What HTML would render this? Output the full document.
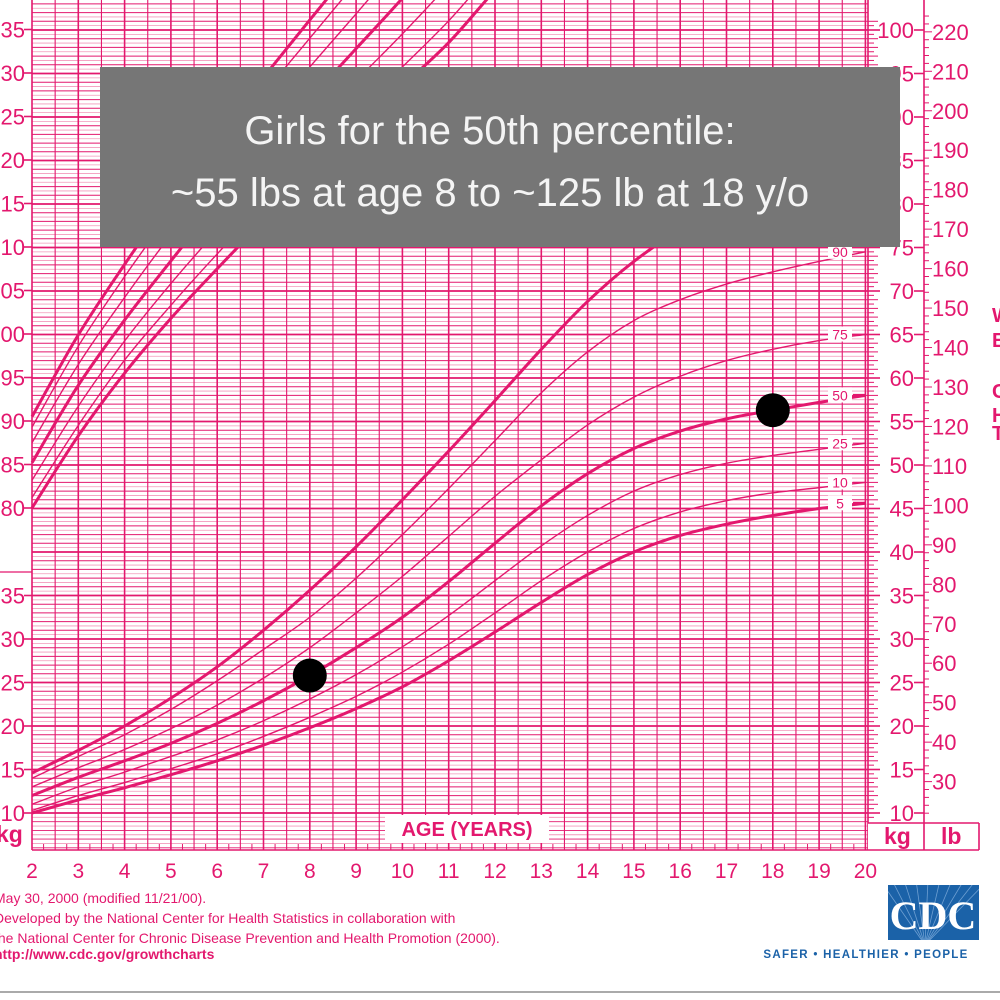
<!DOCTYPE html>
<html><head><meta charset="utf-8"><style>
body{margin:0;background:#fff;}
#wrap{position:relative;width:1000px;height:1000px;overflow:hidden;font-family:"Liberation Sans",sans-serif;}
svg{position:absolute;left:0;top:0;}
</style></head><body>
<div id="wrap">
<svg id="chart" width="1000" height="1000"></svg>
</div>
<script>
const ages = [2,3,4,5,6,7,8,9,10,11,12,13,14,15,16,17,18,19,20];
const weightPercentiles = ["5","10","25","50","75","90","95"];
const w5  = [10.0,11.5,12.9,14.4,16.0,17.8,19.8,22.0,24.5,27.5,30.8,34.2,37.4,40.0,41.9,43.2,44.2,45.0,45.6];
const w10 = [10.3,12.0,13.5,15.1,16.8,18.8,21.0,23.4,26.2,29.4,33.0,36.7,40.0,42.7,44.6,45.9,46.8,47.4,48.0];
const w25 = [11.0,13.0,14.7,16.5,18.4,20.6,23.1,25.9,29.1,32.7,36.7,40.7,44.2,47.0,48.9,50.2,51.1,51.8,52.5];
const w50 = [12.0,14.1,16.0,18.0,20.3,22.9,25.8,29.0,32.5,36.6,41.0,45.3,49.0,51.9,53.9,55.3,56.3,57.2,58.0];
const w75 = [13.0,15.2,17.3,19.7,22.4,25.5,29.0,33.0,37.2,41.8,46.4,50.6,54.6,57.8,60.2,62.0,63.3,64.3,65.0];
const w90 = [14.0,16.5,19.0,21.9,25.2,28.8,32.5,37.0,42.0,47.3,52.8,58.3,63.0,66.6,69.0,70.8,72.2,73.4,74.5];
const w95 = [14.6,17.2,20.0,23.2,26.8,31.0,35.6,40.6,46.0,51.6,57.4,63.3,68.8,73.4,77.0,79.6,81.8,83.8,85.5];
const statureAges = [2,3,4,5,6,7,8,9,10,11,12,13];
const s5  = [80.0,88.3,95.5,101.8,107.5,113.0,118.3,123.5,128.5,133.5,139.5,145.0];
const s10 = [81.2,89.5,97.0,103.3,109.2,114.8,120.2,125.5,130.7,136.0,142.0,147.5];
const s25 = [83.2,91.7,99.2,105.8,111.9,117.8,123.5,129.1,134.5,140.2,146.3,151.5];
const s50 = [85.2,94.1,101.6,108.4,115.0,121.0,127.0,132.8,138.6,144.8,151.0,156.5];
const s75 = [87.5,96.5,104.2,111.4,118.0,124.5,130.7,136.8,143.0,149.2,155.5,160.5];
const s90 = [89.3,98.6,106.6,114.0,121.0,127.6,134.0,140.4,146.8,153.2,159.4,164.0];
const s95 = [90.5,99.9,108.0,115.6,122.8,129.5,136.1,142.6,149.2,155.6,161.6,166.0];
const markerAges = [8,18];
const markerKg = [25.8,56.3];
const kgLeftTicks = [10,15,20,25,30,35];
const cmLeftTicks = [80,85,90,95,100,105,110,115,120,125,130,135];
const kgRightTicks = [10,15,20,25,30,35,40,45,50,55,60,65,70,75,80,85,90,95,100];
const lbTicks = [30,40,50,60,70,80,90,100,110,120,130,140,150,160,170,180,190,200,210,220];

const PINK="#e3186e", LIGHT="#f29abb";
const NS="http://www.w3.org/2000/svg";
const svg=document.getElementById('chart');
const X0=32, PXY=46.3, UNIT=8.7, GRID_R=868, GRID_B=850;
function xAge(a){return X0+(a-2)*PXY;}
function yKg(k){return 813-(k-10)*UNIT;}
function yCm(c){return 508-(c-80)*UNIT;}
function yLb(l){return yKg(l*0.45359);}
function mk(tag,attrs){const e=document.createElementNS(NS,tag);for(const k in attrs)e.setAttribute(k,attrs[k]);svg.appendChild(e);return e;}
function txt(s,x,y,size,anchor,fill,weight){const t=mk('text',{x:x,y:y,'font-size':size,'text-anchor':anchor||'start',fill:fill||PINK,'font-family':'Liberation Sans, sans-serif','font-weight':weight||'normal'});t.textContent=s;return t;}

// horizontal grid
for(let n=0;n*4.35<=813;n++){
  const y=813-n*4.35;
  const half=n%2===1, five=(n%10===0);
  const l=mk('line',{x1:X0,x2:GRID_R,y1:y,y2:y,stroke:half?LIGHT:PINK,'stroke-width':five?1.8:(half?0.8:1)});
  
}
for(let n=1;n<=8;n++){const y=813+n*4.35;if(y>GRID_B)break;mk('line',{x1:X0,x2:GRID_R,y1:y,y2:y,stroke:n%2?LIGHT:PINK,'stroke-width':0.9});}
// vertical grid
for(let a=2;a<=20.01;a+=0.5){
  const l=mk('line',{x1:xAge(a),x2:xAge(a),y1:0,y2:GRID_B,stroke:PINK,'stroke-width':Number.isInteger(a)?1.6:1.1});
  
}
for(let a=2.25;a<20;a+=0.5){mk('line',{x1:xAge(a),x2:xAge(a),y1:GRID_B-6,y2:GRID_B,stroke:PINK,'stroke-width':1});}
mk('line',{x1:X0,x2:GRID_R,y1:GRID_B,y2:GRID_B,stroke:PINK,'stroke-width':1.6});
mk('line',{x1:GRID_R,x2:GRID_R,y1:0,y2:GRID_B,stroke:PINK,'stroke-width':1.6});

// left labels
kgLeftTicks.forEach(k=>{const t=txt(String(k).slice(-2),25,yKg(k)+8,22,'end');mk('line',{x1:24,x2:X0,y1:yKg(k),y2:yKg(k),stroke:PINK,'stroke-width':1.6});});
cmLeftTicks.forEach(c=>{const t=txt(String(c).slice(-2),25,yCm(c)+8,22,'end');mk('line',{x1:24,x2:X0,y1:yCm(c),y2:yCm(c),stroke:PINK,'stroke-width':1.6});});
mk('rect',{x:0,y:538,width:30,height:34,fill:'#fff'});
mk('line',{x1:0,x2:32,y1:572,y2:572,stroke:PINK,'stroke-width':1.2});
{const t=txt('kg',-4,842,23,'start',PINK,'bold');}

// right kg labels + ticks
for(let k=9.5;k<=101;k+=0.5){mk('line',{x1:GRID_R,x2:GRID_R+(Number.isInteger(k)?10:6),y1:yKg(k),y2:yKg(k),stroke:PINK,'stroke-width':1});}
kgRightTicks.forEach(k=>{const t=txt(String(k),914,yKg(k)+8,22,'end');mk('line',{x1:GRID_R,x2:GRID_R+12,y1:yKg(k),y2:yKg(k),stroke:PINK,'stroke-width':1.6});mk('line',{x1:914,x2:924,y1:yKg(k),y2:yKg(k),stroke:PINK,'stroke-width':1.6});});
// lb axis
mk('line',{x1:924,x2:924,y1:0,y2:GRID_B,stroke:PINK,'stroke-width':1.6});
for(let l=22;l<=224;l+=2){mk('line',{x1:924,x2:924+(l%10===0?8:5),y1:yLb(l),y2:yLb(l),stroke:PINK,'stroke-width':1});}
lbTicks.forEach(l=>{const t=txt(String(l),932,yLb(l)+8,22,'start');});
mk('rect',{x:868,y:823,width:111,height:27,fill:'#fff'});
mk('line',{x1:868,x2:979,y1:823,y2:823,stroke:PINK,'stroke-width':1.6});
mk('line',{x1:979,x2:979,y1:823,y2:GRID_B,stroke:PINK,'stroke-width':1.6});
mk('line',{x1:868,x2:979,y1:GRID_B,y2:GRID_B,stroke:PINK,'stroke-width':1.6});
mk('line',{x1:924,x2:924,y1:823,y2:GRID_B,stroke:PINK,'stroke-width':1.6});
{const t=txt('kg',884,844,23,'start',PINK,'bold');}
{const t=txt('lb',941,844,23,'start',PINK,'bold');}
// side title fragments
[['W',322],['E',347],['C',398],['H',422],['T',440]].forEach(p=>{const t=txt(p[0],992,p[1],20,'start',PINK,'bold');});

// x labels
for(let a=2;a<=20;a++){const t=txt(String(a),xAge(a),878,21,'middle');}
mk('rect',{x:385,y:815,width:164,height:28,fill:'#fff'});
{const t=txt('AGE (YEARS)',467,836,20,'middle',PINK,'bold');}

// curves
function curve(xs,ys,yf,w,name){
  const pts=xs.map((a,i)=>[xAge(a),yf(ys[i])]);
  let d='M'+pts[0][0]+','+pts[0][1];
  for(let i=0;i<pts.length-1;i++){
    const p0=pts[i-1]||pts[i],p1=pts[i],p2=pts[i+1],p3=pts[i+2]||p2;
    const c1=[p1[0]+(p2[0]-p0[0])/6,p1[1]+(p2[1]-p0[1])/6],c2=[p2[0]-(p3[0]-p1[0])/6,p2[1]-(p3[1]-p1[1])/6];
    d+=' C'+c1[0]+','+c1[1]+' '+c2[0]+','+c2[1]+' '+p2[0]+','+p2[1];
  }
  const p=mk('path',{d:d,fill:'none',stroke:PINK,'stroke-width':w});
  
}
const wSeries=[w5,w10,w25,w50,w75,w90,w95];
wSeries.forEach((s,i)=>{const bold=(i===0||i===3||i===6);curve(ages,s,yKg,bold?3:1.4,'weight-curve-p'+weightPercentiles[i]);});
const sSeries=[s5,s10,s25,s50,s75,s90,s95];
sSeries.forEach((s,i)=>{const bold=(i===0||i===3||i===6);curve(statureAges,s,yCm,bold?3:1.4,'stature-curve-p'+weightPercentiles[i]);});
// percentile labels
const lastIdx=ages.length-1;
wSeries.slice(0,6).forEach((s,i)=>{
  const y=yKg(s[lastIdx]);
  mk('rect',{x:828,y:y-8,width:24,height:15,fill:'#fff'});
  const t=txt(weightPercentiles[i],840,y+5,14,'middle');
  mk('line',{x1:853,x2:866,y1:y,y2:y,stroke:PINK,'stroke-width':(i===0||i===3)?3:1.2});
});
// markers
markerAges.forEach((a,i)=>{const c=mk('circle',{cx:xAge(a),cy:yKg(markerKg[i]),r:17,fill:'#000'});});

// annotation box
{const r=mk('rect',{x:100,y:67,width:800,height:180,fill:'#767676'});}
{const t=txt('Girls for the 50th percentile:',490,144,40,'middle','#f4f4f4');}
{const t=txt('~55 lbs at age 8 to ~125 lb at 18 y/o',490,206,40,'middle','#f4f4f4');}

// footer
const foot=['May 30, 2000 (modified 11/21/00).','Developed by the National Center for Health Statistics in collaboration with','the National Center for Chronic Disease Prevention and Health Promotion (2000).'];
foot.forEach((s,i)=>{const t=txt(s,-6,903+i*20,14,'start',PINK);});
{const t=txt('http://www.cdc.gov/growthcharts',-6,959,14,'start',PINK,'bold');}
{const r=mk('rect',{x:888,y:885,width:91,height:55,fill:'#1b62a8'});}
mk('clipPath',{id:'lc'}).appendChild(Object.assign(document.createElementNS(NS,'rect'),{}));
document.querySelector('#lc rect').setAttribute('x',888);document.querySelector('#lc rect').setAttribute('y',885);document.querySelector('#lc rect').setAttribute('width',91);document.querySelector('#lc rect').setAttribute('height',55);
for(let i=0;i<10;i++){mk('line',{x1:925,y1:945,x2:880+i*12,y2:880,stroke:'#6d9fd2','stroke-width':0.8,'clip-path':'url(#lc)'});}
{const t=txt('CDC',933,929,40,'middle','#fff','bold');t.setAttribute('font-family','Liberation Serif, serif');}
{const t=txt('SAFER • HEALTHIER • PEOPLE',866,958,11.5,'middle','#1b62a8','bold');t.setAttribute('letter-spacing','1.3');}
mk('line',{x1:0,x2:1000,y1:992,y2:992,stroke:'#aaa','stroke-width':2});
</script>
</body></html>
